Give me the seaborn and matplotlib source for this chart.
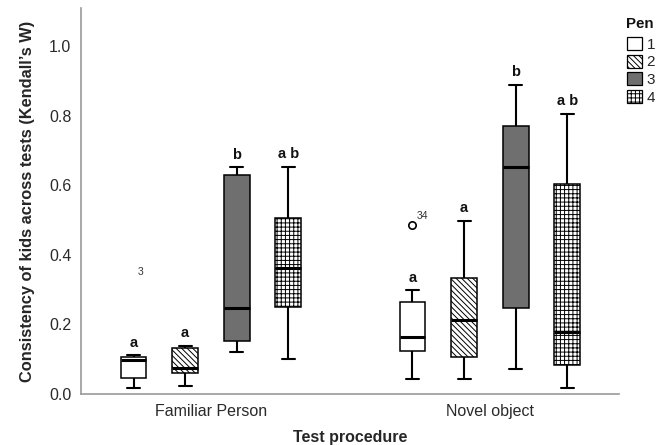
import numpy as np
import pandas as pd
import matplotlib
matplotlib.use("Agg")
import matplotlib.pyplot as plt
import seaborn as sns
from matplotlib.patches import Patch

# ---------------- data ----------------
categories = ["Familiar Person", "Novel object"]
pens = ["1", "2", "3", "4"]
# five-number summaries per category (rows) and pen (columns)
whisker_low = [[0.017, 0.022, 0.122, 0.102], [0.043, 0.043, 0.072, 0.016]]
quartile_1 = [[0.045, 0.060, 0.153, 0.250], [0.123, 0.107, 0.247, 0.084]]
medians = [[0.099, 0.075, 0.246, 0.362], [0.163, 0.213, 0.652, 0.178]]
quartile_3 = [[0.107, 0.133, 0.630, 0.505], [0.264, 0.335, 0.771, 0.604]]
whisker_high = [[0.111, 0.139, 0.652, 0.654], [0.298, 0.498, 0.890, 0.806]]
letters = [["a", "a", "b", "a b"], ["a", "a", "b", "a b"]]
# outliers: category, pen, value, case id, marker visible
outlier_cat = ["Familiar Person", "Novel object"]
outlier_pen = ["1", "1"]
outlier_val = [0.352, 0.487]
outlier_id = ["3", "34"]
outlier_marker = [False, True]

pen_colors = {"1": "white", "2": "white", "3": "#6f6f6f", "4": "white"}
pen_hatches = {"1": "", "2": "\\\\\\\\\\\\", "3": "", "4": "++++"}

rows = []
for i, cat in enumerate(categories):
    for j, pen in enumerate(pens):
        for v in (whisker_low[i][j], quartile_1[i][j], medians[i][j],
                  quartile_3[i][j], whisker_high[i][j]):
            rows.append({"procedure": cat, "pen": pen, "W": v})
df = pd.DataFrame(rows)

# ---------------- style ----------------
sns.set_style("white")
plt.rcParams["font.family"] = ["Liberation Sans", "DejaVu Sans"]
plt.rcParams["hatch.linewidth"] = 0.7
plt.rcParams["hatch.color"] = "black"

fig = plt.figure(figsize=(6.72, 4.45), dpi=100)
ax = fig.add_axes([81 / 672, 51 / 445, (619 - 81) / 672, (437 - 51) / 445])

W_BOX = 0.74
sns.boxplot(data=df, x="procedure", y="W", hue="pen", order=categories,
            hue_order=pens, palette=pen_colors, width=W_BOX, gap=0.5,
            linecolor="black", linewidth=1.1, fliersize=0, whis=1.5,
            medianprops=dict(color="black", linewidth=2.2),
            whiskerprops=dict(color="black", linewidth=1.5),
            capprops=dict(color="black", linewidth=1.5),
            legend=False, ax=ax)


def dodge_x(cat_index, pen_index):
    slot = W_BOX / len(pens)
    return cat_index - W_BOX / 2 + slot * (pen_index + 0.5)


# hatching of boxes
for p in ax.patches:
    verts = p.get_path().vertices
    xc = (verts[:, 0].min() + verts[:, 0].max()) / 2
    cat = int(round(xc))
    h = int(round((xc - cat + W_BOX / 2) / (W_BOX / len(pens)) - 0.5))
    if 0 <= h < len(pens):
        p.set_hatch(pen_hatches[pens[h]])
        p.set_edgecolor("black")

# significance letters
for i, cat in enumerate(categories):
    for j, pen in enumerate(pens):
        ax.annotate(letters[i][j], (dodge_x(i, j), whisker_high[i][j]),
                    xytext=(0, 6), textcoords="offset points",
                    ha="center", va="baseline", fontsize=10.5,
                    fontweight="bold", color="#111111")

# outliers
for c, pn, v, lab, vis in zip(outlier_cat, outlier_pen, outlier_val,
                              outlier_id, outlier_marker):
    x = dodge_x(categories.index(c), pens.index(pn))
    if vis:
        sns.scatterplot(x=[x], y=[v], marker="o", s=28, facecolor="white",
                        edgecolor="black", linewidth=1.2, ax=ax, zorder=5)
        ax.annotate(lab, (x, v), xytext=(7.5, 6), textcoords="offset points",
                    ha="center", va="center", fontsize=7.5, color="#333333")
    else:
        ax.annotate(lab, (x, v), xytext=(5, 0), textcoords="offset points",
                    ha="center", va="center", fontsize=7.5, color="#333333")

# axes
ax.set_xlim(-0.466, 1.463)
ax.set_ylim(0, 1.11)
ax.set_yticks([0.0, 0.2, 0.4, 0.6, 0.8, 1.0])
ax.set_yticklabels(["0.0", "0.2", "0.4", "0.6", "0.8", "1.0"])
ax.tick_params(axis="both", length=0, labelsize=11.5, colors="#2a2a2a")
ax.tick_params(axis="y", pad=7)
ax.tick_params(axis="x", pad=7)
for s in ["top", "right"]:
    ax.spines[s].set_visible(False)
for s in ["left", "bottom"]:
    ax.spines[s].set_color("#9a9a9a")
    ax.spines[s].set_linewidth(1.2)
ax.set_xlabel("Test procedure", fontsize=11.5, fontweight="bold", labelpad=8)
ax.set_ylabel("Consistency of kids across tests (Kendall\u2019s W)",
              fontsize=11.8, fontweight="bold", labelpad=10)

# legend (title as separate text, entries below)
fig.text(626 / 672, 1 - 24 / 445, "Pen", ha="left", va="center",
         fontsize=10.8, fontweight="bold", color="#111111")
handles = [Patch(facecolor=pen_colors[p], edgecolor="black", hatch=pen_hatches[p],
                 linewidth=0.9) for p in pens]
leg = fig.legend(handles, pens, loc="upper left",
                 bbox_to_anchor=(627 / 672, 1 - 37 / 445),
                 bbox_transform=fig.transFigure, frameon=False, borderpad=0,
                 handlelength=0.97, handleheight=0.97, handletextpad=0.3,
                 labelspacing=0.17, fontsize=11, borderaxespad=0)

fig.savefig("out.png", dpi=100)
